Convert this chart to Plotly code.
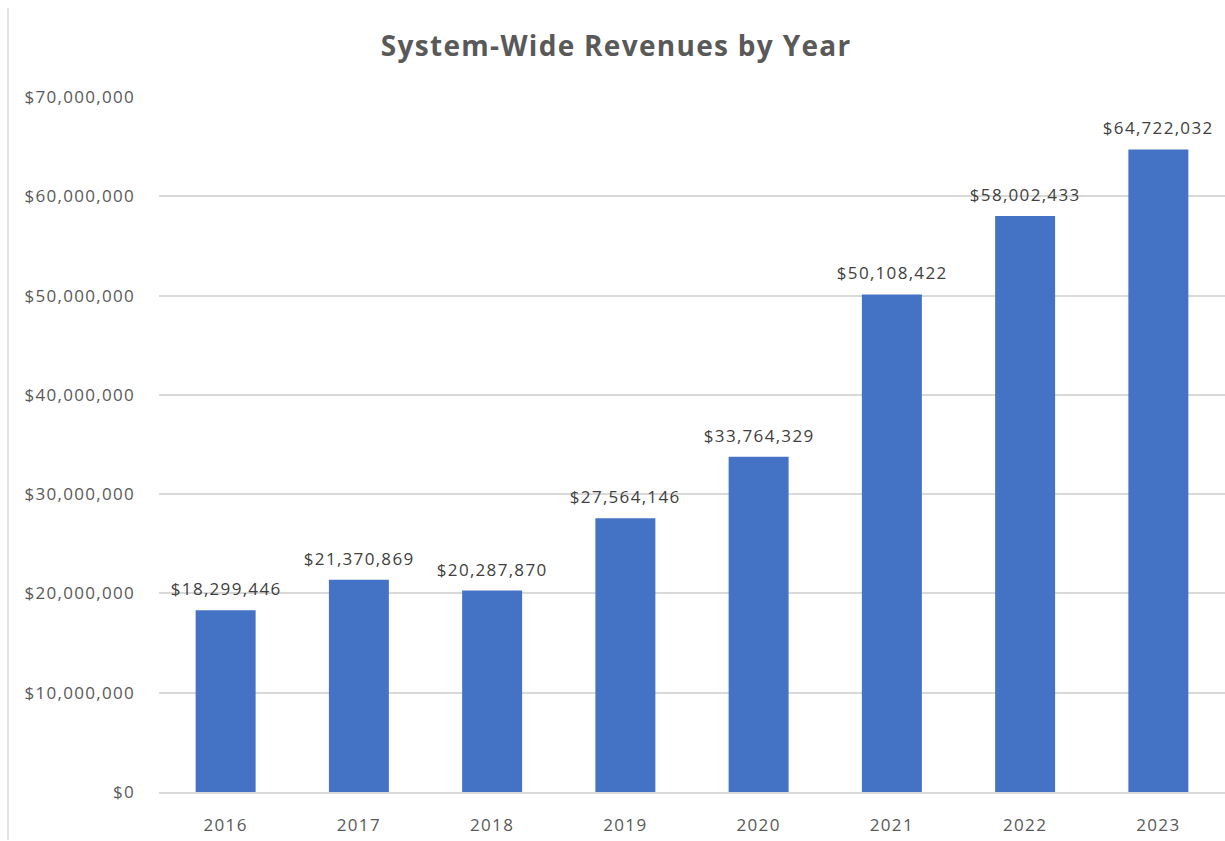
import plotly.graph_objects as go

years = ["2016", "2017", "2018", "2019", "2020", "2021", "2022", "2023"]
revenues = [18299446, 21370869, 20287870, 27564146, 33764329, 50108422, 58002433, 64722032]
y_ticks = [0, 10000000, 20000000, 30000000, 40000000, 50000000, 60000000, 70000000]
y_tick_text = ["$" + f"{v:,}" for v in y_ticks]
labels = ["$" + f"{v:,}" for v in revenues]

W, H = 1225, 841
ML, MR, MT, MB = 159, 0, 97, 49
FONT = "Open Sans"

fig = go.Figure(go.Bar(
    x=years, y=revenues,
    marker=dict(color="#4472C4", line=dict(width=0)),
    hoverinfo="x+y",
))

# category axis: annotation x given as category index
annotations = [
    dict(x=i, y=v, text=t, xref="x", yref="y", showarrow=False,
         yanchor="bottom", yshift=8,
         font=dict(size=17, color="#404040", family=FONT))
    for i, (v, t) in enumerate(zip(revenues, labels))
]

plot_w = W - ML - MR
fig.update_layout(
    width=W, height=H,
    margin=dict(l=ML, r=MR, t=MT, b=MB),
    paper_bgcolor="white", plot_bgcolor="white",
    bargap=0.55,
    showlegend=False,
    title=dict(text="<b>System-Wide Revenues by Year</b>", x=0.503, xanchor="center",
               y=1 - 46 / H, yanchor="middle",
               font=dict(size=28, color="#595959", family=FONT)),
    font=dict(family=FONT, color="#595959"),
    xaxis=dict(type="category", categoryorder="array", categoryarray=years,
               range=[-0.5, len(years) - 0.5],
               showgrid=False, showline=True, linecolor="#D9D9D9", linewidth=1.5,
               ticks="", tickfont=dict(size=17, color="#595959"), ticklabelstandoff=17),
    yaxis=dict(range=[0, 70000000], tickvals=y_ticks, ticktext=y_tick_text,
               showgrid=True, gridcolor="#D9D9D9", gridwidth=1.5, zeroline=False,
               showline=False, ticks="", tickfont=dict(size=17, color="#595959"),
               ticklabelstandoff=23),
    annotations=annotations,
    shapes=[dict(type="line", xref="paper", yref="paper",
                 x0=(8 - ML) / plot_w, x1=(8 - ML) / plot_w,
                 y0=(H - MB - 840) / (H - MT - MB), y1=(H - MB - 8) / (H - MT - MB),
                 line=dict(color="#D9D9D9", width=1.5))],
)

post = (
    "document.body.style.margin='0';"
    "var s=document.createElement('style');"
    "s.innerHTML='.xtick text,.ytick text,.annotation-text{letter-spacing:1.3px}"
    ".gtitle{letter-spacing:1.3px}';"
    "document.head.appendChild(s);"
)
fig.write_html("out.html", config={"displayModeBar": False}, post_script=post)
